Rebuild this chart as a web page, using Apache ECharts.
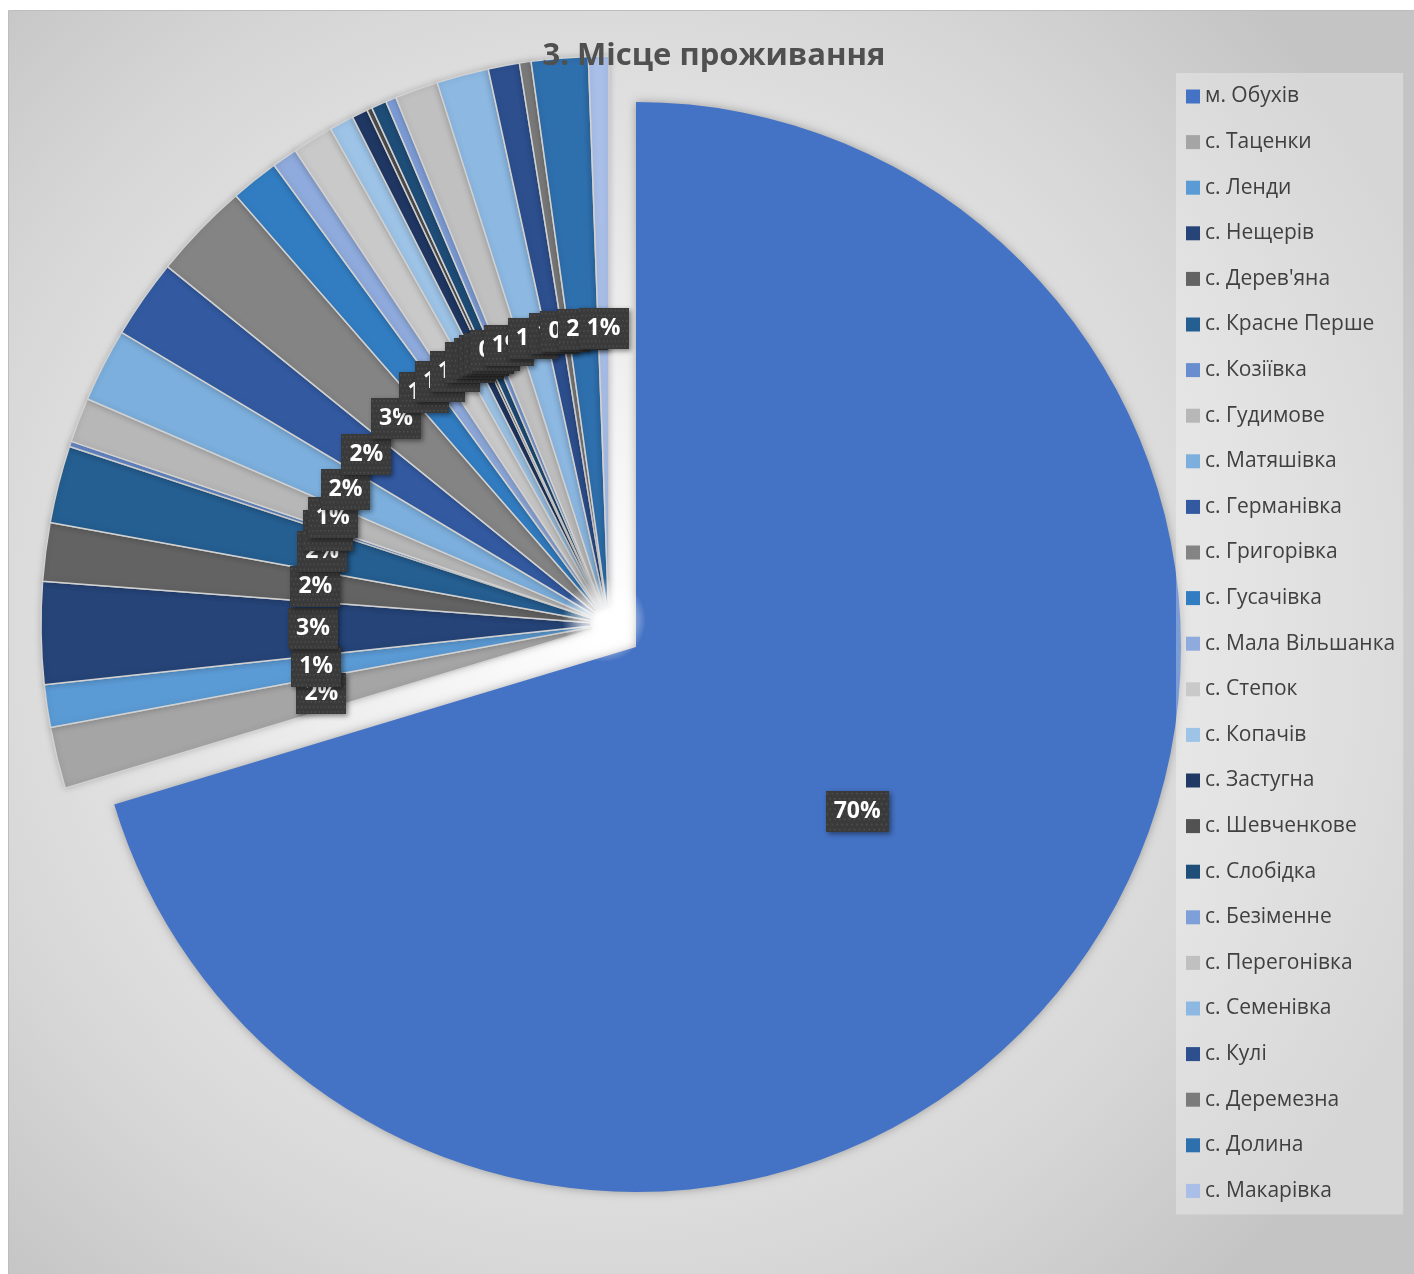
<!DOCTYPE html>
<html><head><meta charset="utf-8">
<script src="https://cdn.jsdelivr.net/npm/echarts@6/dist/echarts.min.js"></script>
<style>html,body{margin:0;padding:0;background:#fff;}#c{width:1414px;height:1274px;}</style>
</head><body><div id="c"></div>
<script>
const chartTitle = '3. Місце проживання';
const categories = ['м. Обухів','с. Таценки','с. Ленди','с. Нещерів',"с. Дерев'яна",'с. Красне Перше','с. Козіївка','с. Гудимове','с. Матяшівка','с. Германівка','с. Григорівка','с. Гусачівка','с. Мала Вільшанка','с. Степок','с. Копачів','с. Застугна','с. Шевченкове','с. Слобідка','с. Безіменне','с. Перегонівка','с. Семенівка','с. Кулі','с. Деремезна','с. Долина','с. Макарівка'];
const values = [70.3,1.75,1.21,2.9,1.66,2.2,0.15,1.27,2.1,2.25,2.76,1.37,0.72,1.16,0.70,0.45,0.15,0.43,0.30,1.23,1.48,0.89,0.33,1.61,0.58];
const colors = ['#4472C4','#A5A5A5','#5B9BD5','#264478','#636363','#255E91','#698ED0','#B7B7B7','#7CAFDD','#335AA1','#848484','#327DC2','#8FAADC','#C9C9C9','#9DC3E6','#203864','#525252','#1F4E79','#7F9FD9','#C0C0C0','#8CB8E2','#2D4F8E','#7B7B7B','#2E6FAD','#A9BFE8'];

function makePattern(){
  const c=document.createElement('canvas'); c.width=64; c.height=40;
  const g=c.getContext('2d'); g.fillStyle='#3a3a3a'; g.fillRect(0,0,64,40);
  g.fillStyle='#525252';
  for(let y=2,r=0;y<40;y+=5,r++){ for(let x=(r%2)*2.5+1;x<64;x+=5){ g.fillRect(x,y,1.6,1.6);} }
  return c;
}
const pattern = makePattern();
const labelStyle = {
  show:true, position:'inside',
  formatter: p => Math.round(p.percent) + '%',
  color:'#ffffff', fontFamily:'Open Sans', fontWeight:'bold', fontSize:23,
  backgroundColor:{image:pattern}, padding:[11,8,7,8],
  shadowBlur:5, shadowColor:'rgba(0,0,0,0.45)', shadowOffsetX:2, shadowOffsetY:2
};

const chart = echarts.init(document.getElementById('c'));
chart.setOption({
  animation:false,
  graphic:[
    {type:'rect', z:-10, shape:{x:8.5,y:10.5,width:1410,height:1268},
     style:{fill:new echarts.graphic.RadialGradient(607,625,900,[{offset:0,color:'#ffffff'},{offset:0.35,color:'#ececec'},{offset:0.75,color:'#d6d6d6'},{offset:1,color:'#c4c4c4'}],true), stroke:'#bdbdbd', lineWidth:1}},
    {type:'circle', z:100, silent:true, shape:{cx:604,cy:620,r:42},
     style:{fill:new echarts.graphic.RadialGradient(604,620,42,[{offset:0,color:'rgba(255,255,255,1)'},{offset:0.5,color:'rgba(255,255,255,0.7)'},{offset:1,color:'rgba(255,255,255,0)'}],true)}},
    {type:'text', z:200, style:{x:714,y:56,text:chartTitle,textAlign:'center',textVerticalAlign:'middle',fill:'#505050',font:'bold 31px "Open Sans"'}}
  ],
  legend:{
    orient:'vertical', left:1176, top:73, padding:[13,8,13,10], itemGap:24.6,
    itemWidth:14, itemHeight:14, icon:'rect', selectedMode:false,
    backgroundColor:'rgba(255,255,255,0.3)',
    textStyle:{fontSize:21, lineHeight:21, color:'#404040', fontFamily:'Open Sans'},
    data: categories.map((n,i)=>({name:n, itemStyle:{color:colors[i]}}))
  },
  series:[
    {
      name:'main', type:'pie', center:[636,647], radius:[0,545], startAngle:90, clockwise:true,
      avoidLabelOverlap:false, minShowLabelAngle:0, labelLayout:{hideOverlap:false},
      silent:true, emphasis:{disabled:true}, labelLine:{show:false}, label:labelStyle,
      data: categories.map((n,i)=>({name:n, value:values[i],
        itemStyle: i===0 ? {color:colors[0], shadowBlur:10, shadowColor:'rgba(0,0,0,0.3)'} : {color:'rgba(0,0,0,0)', borderWidth:0},
        label:{show:i===0}}))
    },
    {
      name:'others', type:'pie', center:[609,624], radius:[18,568], startAngle:90, clockwise:true,
      avoidLabelOverlap:false, minShowLabelAngle:0, labelLayout:{hideOverlap:false},
      silent:true, emphasis:{disabled:true}, labelLine:{show:false}, label:labelStyle,
      data: categories.map((n,i)=>({name:n, value:values[i],
        itemStyle: i===0 ? {color:'rgba(0,0,0,0)', borderWidth:0} : {color:colors[i], borderColor:'#d2d2d2', borderWidth:1.5, shadowBlur:6, shadowColor:'rgba(0,0,0,0.18)'},
        label:{show:i!==0}}))
    }
  ]
});
</script></body></html>
